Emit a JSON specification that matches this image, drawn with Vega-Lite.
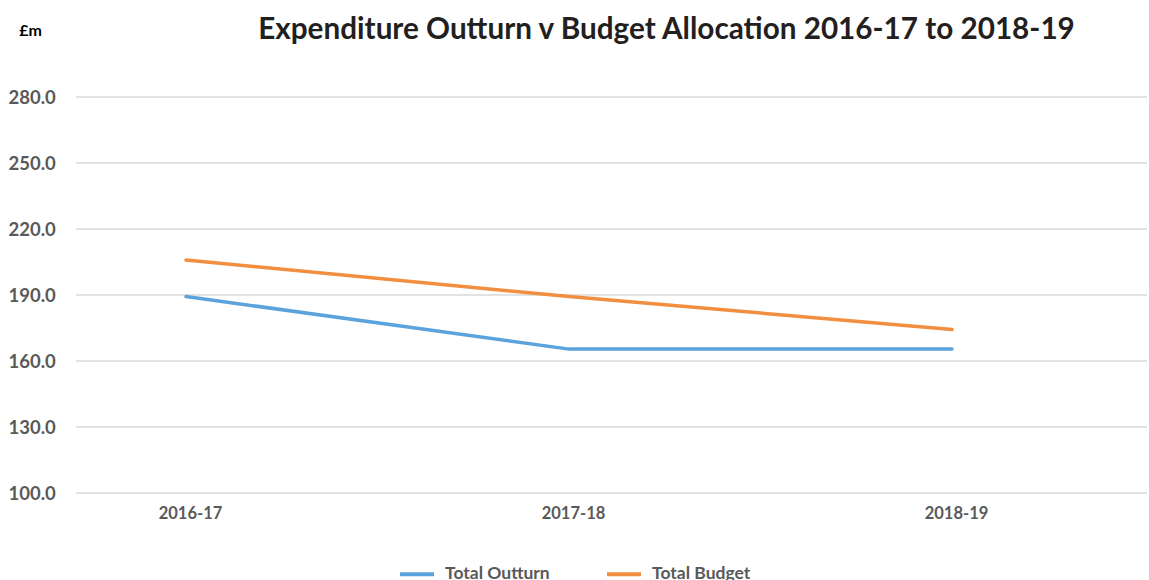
{
  "$schema": "https://vega.github.io/schema/vega-lite/v6.json",
  "autosize": {"type": "none"},
  "width": 1071,
  "height": 396,
  "padding": {"left": 76, "top": 97, "right": 2, "bottom": 87},
  "background": "#ffffff",
  "title": {
    "text": "Expenditure Outturn v Budget Allocation 2016-17 to 2018-19",
    "font": "Lato",
    "fontSize": 29.7,
    "fontWeight": "bold",
    "color": "#231F20",
    "anchor": "middle",
    "dx": 55,
    "offset": -24
  },
  "datasets": {
    "gridlines": [
      {"level": 100}, {"level": 130}, {"level": 160}, {"level": 190},
      {"level": 220}, {"level": 250}, {"level": 280}
    ],
    "spend": [
      {"year": "2016-17", "series": "Total Outturn", "value": 189.3},
      {"year": "2017-18", "series": "Total Outturn", "value": 165.4},
      {"year": "2018-19", "series": "Total Outturn", "value": 165.4},
      {"year": "2016-17", "series": "Total Budget", "value": 205.9},
      {"year": "2017-18", "series": "Total Budget", "value": 189.3},
      {"year": "2018-19", "series": "Total Budget", "value": 174.3}
    ]
  },
  "layer": [
    {
      "data": {"name": "gridlines"},
      "mark": {"type": "rule", "color": "#D9D9D9", "strokeWidth": 1.5},
      "encoding": {
        "y": {"field": "level", "type": "quantitative"}
      }
    },
    {
      "data": {"name": "spend"},
      "mark": {"type": "line", "strokeWidth": 3.5, "strokeCap": "round"},
      "encoding": {
        "x": {
          "field": "year",
          "type": "ordinal",
          "scale": {"type": "point", "range": [110, 876], "padding": 0},
          "axis": {
            "title": null,
            "labelAngle": 0,
            "labelPadding": 12,
            "labelOffset": 4,
            "labelFont": "Lato",
            "labelFontSize": 16.5,
            "labelFontWeight": "bold",
            "labelColor": "#595959",
            "ticks": false,
            "grid": false,
            "domain": false
          }
        },
        "y": {
          "field": "value",
          "type": "quantitative",
          "scale": {"domain": [100, 280], "nice": false, "zero": false},
          "axis": {
            "values": [100, 130, 160, 190, 220, 250, 280],
            "format": ".1f",
            "title": "£m",
            "titleAngle": 0,
            "titleX": -46,
            "titleY": -67,
            "titleAlign": "center",
            "titleBaseline": "middle",
            "titleFont": "Lato",
            "titleFontSize": 16,
            "titleFontWeight": "bold",
            "titleColor": "#000000",
            "labelAlign": "left",
            "labelPadding": 68,
            "labelFont": "Lato",
            "labelFontSize": 18.5,
            "labelFontWeight": "bold",
            "labelColor": "#595959",
            "ticks": false,
            "domain": false,
            "grid": false
          }
        },
        "color": {
          "field": "series",
          "type": "nominal",
          "scale": {"domain": ["Total Outturn", "Total Budget"], "range": ["#5BA3DD", "#F28E3F"]},
          "legend": {
            "title": null,
            "orient": "none",
            "legendX": 322,
            "legendY": 458,
            "direction": "horizontal",
            "symbolType": "stroke",
            "symbolSize": 1156,
            "symbolStrokeWidth": 4,
            "labelFont": "Lato",
            "labelFontSize": 17.5,
            "labelFontWeight": "bold",
            "labelColor": "#595959",
            "labelOffset": 9,
            "columnPadding": 49
          }
        }
      }
    }
  ],
  "config": {"view": {"stroke": null}}
}
